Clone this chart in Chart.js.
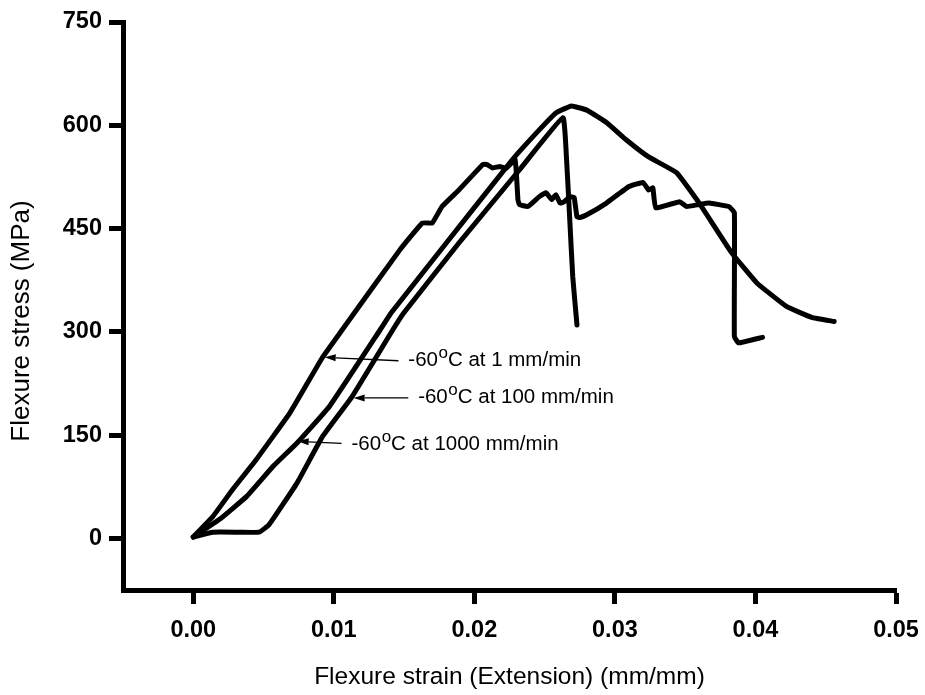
<!DOCTYPE html>
<html>
<head>
<meta charset="utf-8">
<script src="https://cdn.jsdelivr.net/npm/chart.js@4.4.0/dist/chart.umd.min.js"></script>
<style>
  html, body { margin: 0; padding: 0; background: #fff; }
  #wrap { width: 925px; height: 695px; }
</style>
</head>
<body>
<div id="wrap"><canvas id="chart" width="925" height="695"></canvas></div>
<script>
// Valores: deformação (mm/mm) x tensão (MPa)

const strain1 = [0.0000, 0.0014, 0.0028, 0.0045, 0.0069, 0.0092, 0.0106, 0.0147, 0.0163, 0.0170,
  0.0177, 0.0189, 0.0206, 0.0209, 0.0213, 0.0218, 0.0223, 0.0229, 0.0231, 0.0232,
  0.0238, 0.0246, 0.0251, 0.0255, 0.0258, 0.0261, 0.0264, 0.0268, 0.0271, 0.0273,
  0.0275, 0.0280, 0.0294, 0.0310, 0.0320, 0.0324, 0.0327, 0.0329, 0.0346, 0.0351,
  0.0360, 0.0367, 0.0381, 0.0385, 0.0385, 0.0388, 0.0405];
const stress1 = [2, 32, 71, 115, 183, 263, 303, 419, 458, 458,
  482, 506, 543, 543, 538, 540, 538, 550, 492, 485,
  482, 496, 502, 492, 499, 487, 489, 496, 495, 467,
  466, 470, 487, 511, 517, 506, 509, 480, 489, 482,
  485, 487, 482, 473, 293, 284, 292];

const strain100 = [0.0000, 0.0014, 0.0033, 0.0047, 0.0054, 0.0074, 0.0092, 0.0113, 0.0142, 0.0150,
  0.0189, 0.0232, 0.0263, 0.02655, 0.0268, 0.0270, 0.0273];
const stress100 = [2, 9, 9, 9, 20, 81, 148, 206, 303, 328,
  429, 535, 611, 554, 458, 380, 310];

const strain1000 = [0.0000, 0.0019, 0.0038, 0.0057, 0.0074, 0.0097, 0.0133, 0.0141, 0.0182, 0.0227,
  0.0246, 0.0258, 0.0269, 0.0280, 0.0294, 0.0308, 0.0324, 0.0344, 0.0360, 0.0383,
  0.0401, 0.0422, 0.0440, 0.0456];
const stress1000 = [2, 28, 61, 105, 139, 192, 303, 328, 434, 550,
  593, 618, 628, 622, 604, 579, 554, 531, 487, 415,
  371, 337, 321, 315];

const xTicks = [0, 0.01, 0.02, 0.03, 0.04, 0.05];
const yTicks = [0, 150, 300, 450, 600, 750];

const rateLabels = ['1 mm/min', '100 mm/min', '1000 mm/min'];
const yTitle = 'Flexure stress (MPa)';
const xTitle = 'Flexure strain (Extension) (mm/mm)';

// Setas das legendas (em coordenadas de dados)
const notes = [
  { text: rateLabels[0], tip: [0.00935, 263], tail: [0.0146, 258], at: [0.0153, 251] },
  { text: rateLabels[1], tip: [0.01141, 204], tail: [0.0153, 204], at: [0.0160, 196] },
  { text: rateLabels[2], tip: [0.00743, 141], tail: [0.01055, 138], at: [0.01126, 129] },
];

const FONT = '"Liberation Sans", Arial, Helvetica, sans-serif';

function toPoints(xs, ys) {
  return xs.map((x, i) => ({ x, y: ys[i] }));
}

function series(xs, ys) {
  return {
    data: toPoints(xs, ys),
    borderColor: '#000',
    borderWidth: 5,
    pointRadius: 0,
    showLine: true,
    tension: 0.1,
    borderJoinStyle: 'round',
    borderCapStyle: 'round',
  };
}

// ── Plugin: setas, textos "-60°C at ..." e título do eixo Y ─────────────────

const arrowNotes = {
  id: 'arrowNotes',
  afterDatasetsDraw(chart) {
    const { ctx, scales: { x, y } } = chart;
    ctx.save();
    notes.forEach(n => {
      const tx = x.getPixelForValue(n.tip[0]);
      const ty = y.getPixelForValue(n.tip[1]);
      const sx = x.getPixelForValue(n.tail[0]);
      const sy = y.getPixelForValue(n.tail[1]);
      const ang = Math.atan2(ty - sy, tx - sx);
      const headLen = 11;
      const headHalf = 3.5;
      const bx = tx - headLen * Math.cos(ang);
      const by = ty - headLen * Math.sin(ang);

      ctx.strokeStyle = '#000';
      ctx.lineWidth = 1.3;
      ctx.beginPath();
      ctx.moveTo(sx, sy);
      ctx.lineTo(bx, by);
      ctx.stroke();

      ctx.fillStyle = '#000';
      ctx.beginPath();
      ctx.moveTo(tx, ty);
      ctx.lineTo(bx - headHalf * Math.sin(ang), by + headHalf * Math.cos(ang));
      ctx.lineTo(bx + headHalf * Math.sin(ang), by - headHalf * Math.cos(ang));
      ctx.closePath();
      ctx.fill();

      let px = x.getPixelForValue(n.at[0]);
      const py = y.getPixelForValue(n.at[1]);
      ctx.textBaseline = 'alphabetic';
      ctx.textAlign = 'left';
      ctx.font = `20.5px ${FONT}`;
      ctx.fillText('-60', px, py);
      px += ctx.measureText('-60').width;
      ctx.font = `17px ${FONT}`;
      ctx.fillText('o', px + 0.5, py - 8);
      px += ctx.measureText('o').width + 0.5;
      ctx.font = `20.5px ${FONT}`;
      ctx.fillText('C at ' + n.text, px, py);
    });

    // título do eixo Y, um pouco abaixo do centro como na figura
    ctx.translate(22, 321);
    ctx.rotate(-Math.PI / 2);
    ctx.font = `26px ${FONT}`;
    ctx.textAlign = 'center';
    ctx.textBaseline = 'middle';
    ctx.fillStyle = '#000';
    ctx.fillText(yTitle, 0, 0);
    ctx.restore();
  },
};

// ── Gráfico ─────────────────────────────────────────────────────────────────

const ctx = document.getElementById('chart').getContext('2d');

new Chart(ctx, {
  type: 'scatter',
  data: {
    datasets: [
      series(strain1, stress1),
      series(strain100, stress100),
      series(strain1000, stress1000),
    ],
  },
  options: {
    responsive: false,
    animation: false,
    layout: { padding: { top: 22, right: 29, left: 0, bottom: 0 } },
    plugins: {
      legend: { display: false },
      tooltip: { enabled: false },
    },
    scales: {
      x: {
        type: 'linear',
        min: -0.005,
        max: 0.05,
        afterBuildTicks: s => { s.ticks = xTicks.map(v => ({ value: v })); },
        afterFit: s => { s.height = 105; s.paddingLeft = 0; s.paddingRight = 0; },
        border: { display: true, color: '#000', width: 5 },
        grid: { drawOnChartArea: false, drawTicks: true, tickLength: 14, tickWidth: 5, tickColor: '#000' },
        ticks: {
          color: '#000',
          padding: 12,
          maxRotation: 0,
          font: { family: FONT, size: 23.5, weight: 'bold' },
          callback: v => Number(v).toFixed(2),
        },
        title: {
          display: true,
          text: xTitle,
          color: '#000',
          padding: { top: 0, bottom: 3 },
          font: { family: FONT, size: 24.5 },
        },
      },
      y: {
        type: 'linear',
        min: -75,
        max: 750,
        afterBuildTicks: s => { s.ticks = yTicks.map(v => ({ value: v })); },
        afterFit: s => { s.width = 123; s.paddingTop = 0; s.paddingBottom = 0; },
        border: { display: true, color: '#000', width: 5 },
        grid: { drawOnChartArea: false, drawTicks: true, tickLength: 14, tickWidth: 5, tickColor: '#000' },
        ticks: {
          color: '#000',
          padding: 7,
          font: { family: FONT, size: 23.5, weight: 'bold' },
          callback: v => String(v),
        },
        title: { display: false },
      },
    },
  },
  plugins: [arrowNotes],
});
</script>
</body>
</html>
